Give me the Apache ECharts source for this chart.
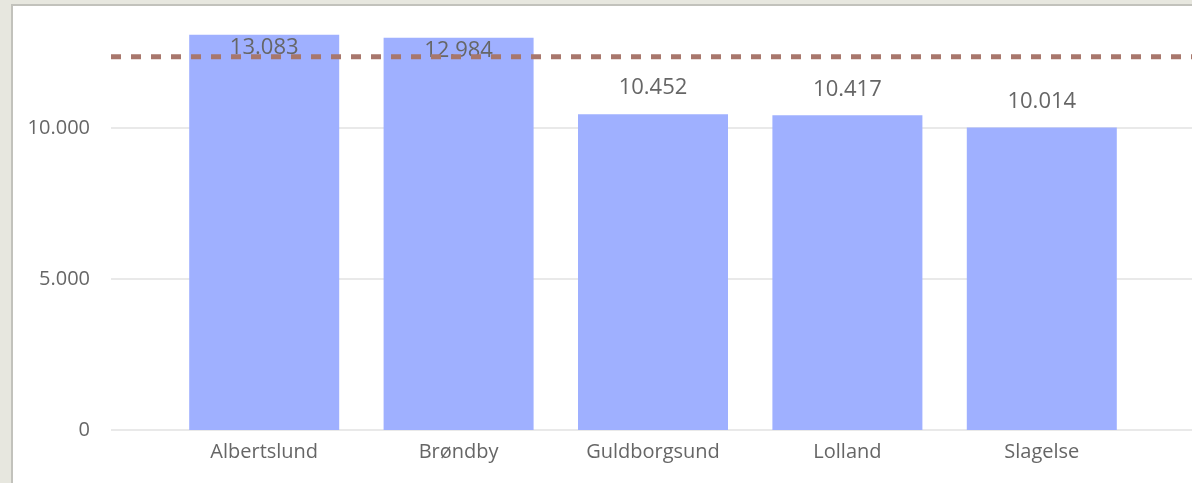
<!DOCTYPE html>
<html>
<head>
<meta charset="utf-8">
<script src="https://cdn.jsdelivr.net/npm/echarts@6/dist/echarts.min.js"></script>
<style>
  html, body { margin: 0; padding: 0; background: #fff; }
  #main { width: 1192px; height: 483px; }
</style>
</head>
<body>
<div id="main"></div>
<script>
var kommuner = ['Albertslund', 'Brøndby', 'Guldborgsund', 'Lolland', 'Slagelse'];
var vaerdier = [13083, 12984, 10452, 10417, 10014];
var referenceLinje = [12350, 12350]; // dashed reference line across the panel
var yTicks = [0, 5000, 10000];

var font = "'Segoe UI', 'Open Sans', sans-serif";
var tekstFarve = '#666666';

function dk(v) {
  return String(v).replace(/\B(?=(\d{3})+(?!\d))/g, '.');
}

var chart = echarts.init(document.getElementById('main'));

var option = {
  backgroundColor: '#ffffff',
  animation: false,
  textStyle: { fontFamily: font },
  graphic: [
    { type: 'rect', shape: { x: 0, y: 0, width: 11, height: 483 }, style: { fill: '#e7e7df' } },
    { type: 'rect', shape: { x: 0, y: 0, width: 1192, height: 4 }, style: { fill: '#e7e7df' } },
    { type: 'line', shape: { x1: 12, y1: 5, x2: 12, y2: 483 }, style: { stroke: '#c2c2bc', lineWidth: 2 } },
    { type: 'line', shape: { x1: 11, y1: 5, x2: 1192, y2: 5 }, style: { stroke: '#c2c2bc', lineWidth: 2 } }
  ],
  grid: [
    { left: 111, right: 0, top: 7, bottom: 53 },
    { left: 167, width: 972, top: 7, bottom: 53 }
  ],
  xAxis: [
    {
      gridIndex: 0,
      type: 'category',
      data: ['', ''],
      boundaryGap: false,
      show: false
    },
    {
      gridIndex: 1,
      type: 'category',
      data: kommuner,
      axisLine: { show: false },
      axisTick: { show: false },
      axisLabel: { color: tekstFarve, fontSize: 20, margin: 12, fontFamily: font }
    }
  ],
  yAxis: [
    {
      gridIndex: 0,
      type: 'value',
      min: 0,
      max: 14000,
      interval: 5000,
      axisLine: { show: false },
      axisTick: { show: false },
      axisLabel: {
        color: tekstFarve,
        fontSize: 20,
        margin: 21,
        fontFamily: font,
        showMaxLabel: false,
        formatter: function (v) { return yTicks.indexOf(v) >= 0 ? dk(v) : ''; }
      },
      splitLine: {
        lineStyle: { color: ['#e9e9e9', '#e9e9e9', '#e9e9e9', 'rgba(0,0,0,0)'], width: 2 }
      }
    },
    {
      gridIndex: 1,
      type: 'value',
      min: 0,
      max: 14000,
      interval: 5000,
      show: false
    }
  ],
  series: [
    {
      type: 'bar',
      xAxisIndex: 1,
      yAxisIndex: 1,
      barWidth: 150,
      itemStyle: { color: '#9fb0ff' },
      label: {
        show: true,
        color: tekstFarve,
        fontSize: 22,
        fontFamily: font,
        formatter: function (p) { return dk(p.value); }
      },
      data: vaerdier.map(function (v) {
        var inde = v > 12500;
        return {
          value: v,
          label: { position: inde ? 'insideTop' : 'top', distance: inde ? 2 : 15 }
        };
      }),
      z: 2
    },
    {
      type: 'line',
      xAxisIndex: 0,
      yAxisIndex: 0,
      data: referenceLinje,
      symbol: 'none',
      silent: true,
      lineStyle: { color: '#a8776c', width: 5, type: [10, 10] },
      z: 5
    }
  ]
};

chart.setOption(option);
</script>
</body>
</html>
